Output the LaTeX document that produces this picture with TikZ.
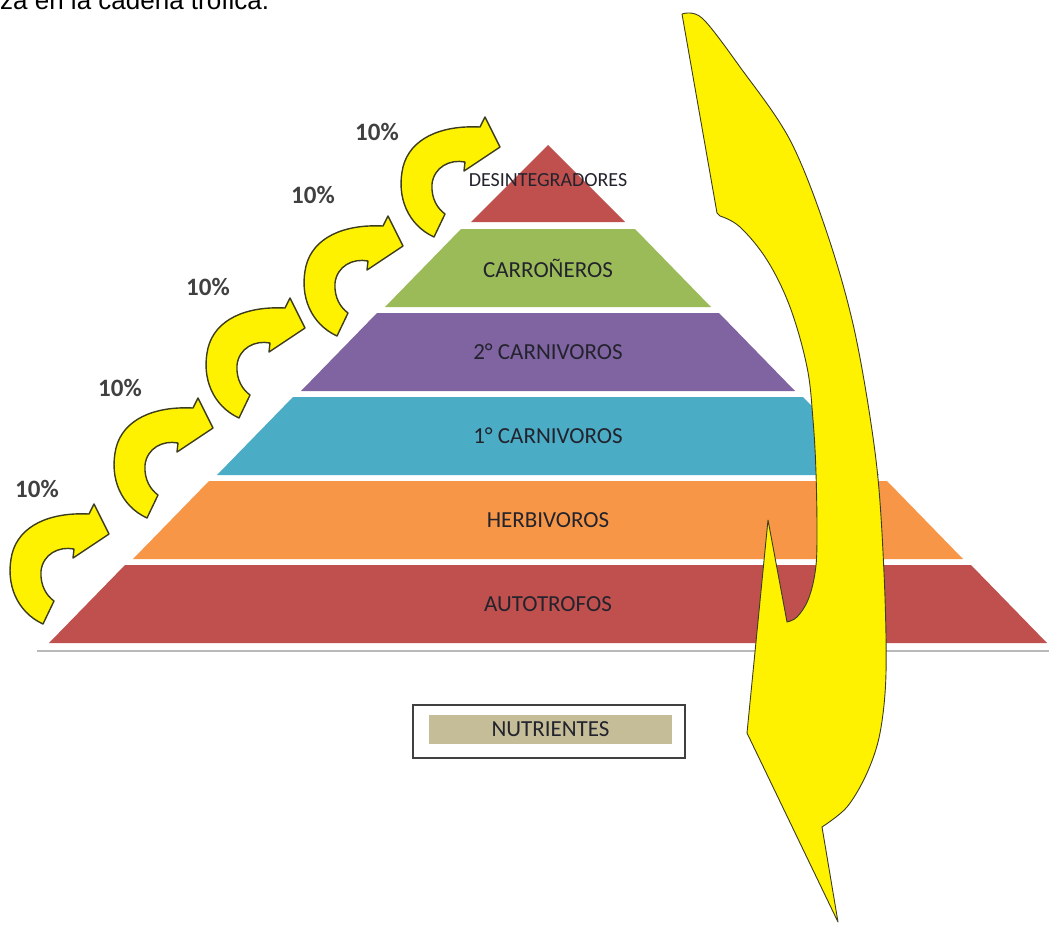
\documentclass[tikz,border=0pt]{standalone}
\usepackage{fontspec}
\setmainfont{Carlito}
\newfontfamily\headfont{Liberation Sans}
\definecolor{layred}{RGB}{192,80,77}
\definecolor{laygreen}{RGB}{155,187,89}
\definecolor{laypurple}{RGB}{128,100,162}
\definecolor{laycyan}{RGB}{75,172,198}
\definecolor{layorange}{RGB}{247,150,70}
\definecolor{nutrtan}{RGB}{196,189,151}
\definecolor{arrowline}{RGB}{60,60,30}
\definecolor{labeltext}{RGB}{35,35,45}

\begin{document}
\begin{tikzpicture}[x=1pt, y=-1pt,
  arrowfill/.style={fill=yellow, draw=arrowline, line width=0.9pt, line join=round},
  layertext/.style={font=\fontsize{23}{23}\selectfont, text=labeltext},
  percent/.style={font=\bfseries\fontsize{25}{25}\selectfont, text=black!75},
  swirl/.pic={
    \filldraw[arrowfill, line width=1.4pt] (-16,58) .. controls (-42,46) and (-54,18) .. (-47,-12)
      .. controls (-40,-40) and (-10,-54) .. (30,-52) -- (35,-62) -- (50,-32)
      -- (14,-8) -- (15,-17) .. controls (0,-20) and (-16,-12) .. (-18,5)
      .. controls (-19,20) and (-12,30) .. (-5,35) -- cycle;
  },
]
  \useasboundingbox (0,0) rectangle (1049,924);
  \clip (0,0) rectangle (1049,924);
  \def\cx{548} % axis of the pyramid
  \node[anchor=base west, inner sep=0, font=\headfont\fontsize{26}{26}\selectfont] (head) at (0,9.5) {za en la cadena trófica.};
  \fill[layred] (\cx,145) -- (\cx+77,222) -- (\cx-77,222) -- cycle;
  \foreach \i/\col in {0/layred,1/layorange,2/laycyan,3/laypurple,4/laygreen} {
    \pgfmathsetmacro\yt{565-84*\i}
    \pgfmathsetmacro\yb{\yt+78}
    \fill[\col] (\cx-\yt+142,\yt) -- (\cx+\yt-142,\yt) -- (\cx+\yb-144,\yb) -- (\cx-\yb+144,\yb) -- cycle;
  }
  \draw[gray!55, line width=2pt] (37,651) -- (1049,651);
  \foreach \i/\txt in {0/AUTOTROFOS,1/HERBIVOROS,2/1° CARNIVOROS,3/2° CARNIVOROS,4/CARROÑEROS}
    \node[layertext] (layer\i) at (\cx,604-84*\i) {\txt};
  \node[layertext, font=\fontsize{20}{20}\selectfont] (layer5) at (\cx,180) {DESINTEGRADORES};
  \foreach \px/\py [count=\k] in {59/566,163/460,255/360,353/278,450/179}
    \pic (swirl\k) at (\px,\py) {swirl};
  \foreach \px/\py [count=\k] in {37/489,120/388,208/287,313/195,377/132}
    \node[percent] (pct\k) at (\px,\py) {10\%};
  \filldraw[arrowfill] plot[smooth, tension=0.55] coordinates {(682,14) (702,18) (740,67) (790,140) (827,233) (855,333) (876,460) (884,573) (886,673) (880,733) (867,773) (847,807) (822,827)}
    -- (838,922) -- (747,733) -- (768,520) -- (787,622)
    -- plot[smooth, tension=0.6] coordinates {(787,622) (797,617) (808,600) (815,573) (817,540) (816,473) (813,420) (807,367) (790,307) (767,260) (740,227) (720,216)}
    -- (717,213) -- cycle;
  \node[draw=black!75, line width=1.6pt, minimum width=272pt, minimum height=53pt, inner sep=0] (nutbox) at (549,731.5) {};
  \node[layertext, fill=nutrtan, minimum width=243pt, minimum height=29pt, inner sep=0] (nutrients) at (550.5,729.5) {NUTRIENTES};
\end{tikzpicture}
\end{document}
